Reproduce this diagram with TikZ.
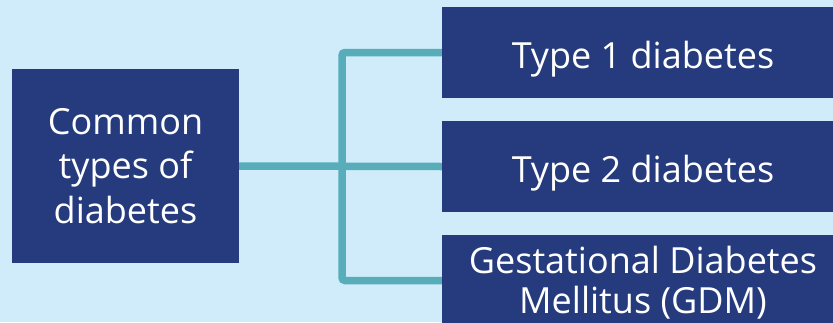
\documentclass[tikz,border=0pt]{standalone}
\usepackage{fontspec}
\setmainfont{Open Sans}
\definecolor{bgc}{RGB}{208,235,249}
\definecolor{boxc}{RGB}{37,59,126}
\definecolor{linec}{RGB}{88,173,187}
\begin{document}
\begin{tikzpicture}[x=1pt,y=-1pt,
  box/.style={rectangle, fill=boxc, text=white, inner sep=0pt, align=center,
    font=\fontsize{36}{44.5}\selectfont},
  sbox/.style={box, minimum width=402pt, minimum height=91pt},
  conn/.style={draw=linec, line width=7.5pt, rounded corners=3pt}]
\useasboundingbox (0,0) rectangle (833,322);
\clip (0,0) rectangle (833,322);
\fill[bgc] (0,0) rectangle (833,322);
\node[box, minimum width=227pt, minimum height=194pt] (left) at (125.5,166) {Common\\types of\\diabetes};
\node[sbox, text height=31pt, text depth=0pt] (r1) at (643,52.5) {Type 1 diabetes};
\node[sbox, text height=31pt, text depth=0pt] (r2) at (643,166.5) {Type 2 diabetes};
\node[sbox, text height=67pt, text depth=2pt, font=\fontsize{36}{40}\selectfont] (r3) at (643,280.5) {Gestational Diabetes\\Mellitus (GDM)};
\coordinate (bx) at (342,0);
\draw[conn] (r1.west) -- (r1.west -| bx) -- (r3.west -| bx) -- (r3.west);
\draw[conn] (left.east) -- (r2.west);
\end{tikzpicture}
\end{document}
